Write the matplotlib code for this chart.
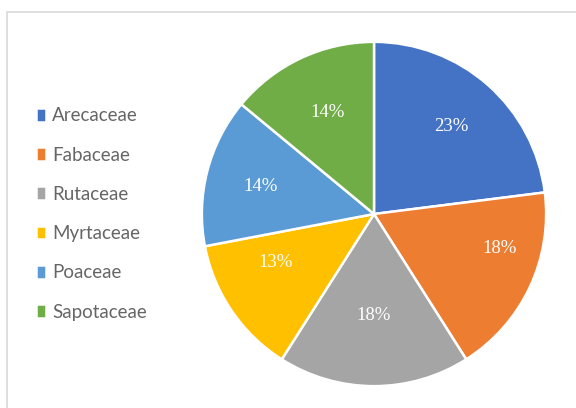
import matplotlib
matplotlib.use("Agg")
import matplotlib.pyplot as plt
from matplotlib.patches import Rectangle

# data
families = ['Arecaceae', 'Fabaceae', 'Rutaceae', 'Myrtaceae', 'Poaceae', 'Sapotaceae']
shares = [23, 18, 18, 13, 14, 14]
colors = ['#4472C4', '#ED7D31', '#A5A5A5', '#FFC000', '#5B9BD5', '#70AD47']

# label placement (in pie-radius units), Excel "best fit" style
label_pos = [(0.45, 0.51), (0.73, -0.20), (0.0, -0.59),
             (-0.57, -0.28), (-0.66, 0.16), (-0.27, 0.59)]

fig = plt.figure(figsize=(5.76, 4.08), dpi=100)

# chart area border
fig.patches.append(Rectangle((7 / 576, -0.1), 1.2, 1.1 - 12 / 408,
                             transform=fig.transFigure, fill=False,
                             edgecolor='#D9D9D9', linewidth=1.2))

ax = fig.add_axes([(374 - 173) / 576, (408 - 214 - 173) / 408, 346 / 576, 346 / 408])
wedges, texts, autotexts = ax.pie(shares, colors=colors, startangle=90, counterclock=False,
                                  autopct='%1.0f%%',
                                  wedgeprops=dict(edgecolor='white', linewidth=1.8),
                                  textprops=dict(color='white', family='Liberation Serif', fontsize=13.5))
for t, (x, y) in zip(autotexts, label_pos):
    t.set_position((x, y))
ax.set_xlim(-1.005, 1.005)
ax.set_ylim(-1.005, 1.005)
ax.set_aspect('equal')

fig.legend(wedges, families, loc='center left', bbox_to_anchor=(36 / 576, 1 - 214 / 408),
           frameon=False, handlelength=0.55, handleheight=0.75, handletextpad=0.3,
           labelspacing=1.19, prop=dict(family='Lato', size=13.5), labelcolor='#666666',
           borderaxespad=0, borderpad=0)

fig.savefig('out.png', dpi=100)
